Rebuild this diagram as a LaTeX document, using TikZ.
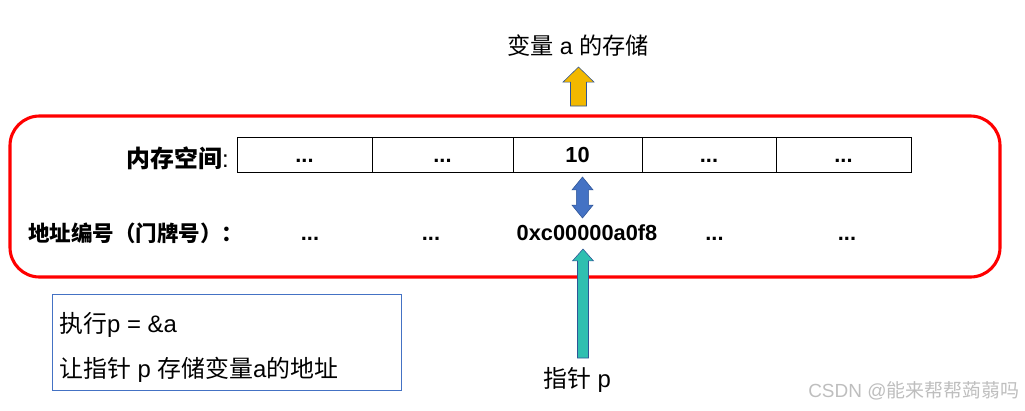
\documentclass[tikz,border=0pt]{standalone}
\usepackage{fontspec}
\setmainfont{Liberation Sans}
\newfontfamily\cjk{Noto Sans CJK SC}
\usetikzlibrary{calc}
\definecolor{framecol}{RGB}{255,0,0}
\definecolor{boxcol}{RGB}{68,114,196}
\definecolor{linkcol}{RGB}{68,114,196}
\definecolor{ptrcol}{RGB}{47,191,176}
\definecolor{edgecol}{RGB}{47,85,151}
\definecolor{storecol}{RGB}{242,184,0}
\definecolor{markcol}{RGB}{190,190,190}
\newcommand{\celldots}{...}
\tikzset{
  % shaft half-width / head half-width / head length, head at the target
  fat up/.style args={#1/#2/#3}{
    to path={let \p1=(\tikztostart), \p2=(\tikztotarget) in
      (\x1-#1,\y1) -- (\x1-#1,\y2-#3) -- (\x1-#2,\y2-#3) -- (\x1,\y2)
      -- (\x1+#2,\y2-#3) -- (\x1+#1,\y2-#3) -- (\x1+#1,\y1) -- cycle}
  },
  % same, with a head at both ends (start above target)
  fat both/.style args={#1/#2/#3}{
    to path={let \p1=(\tikztostart), \p2=(\tikztotarget) in
      (\x1-#1,\y1-#3) -- (\x1-#2,\y1-#3) -- (\x1,\y1) -- (\x1+#2,\y1-#3)
      -- (\x1+#1,\y1-#3) -- (\x1+#1,\y2+#3) -- (\x1+#2,\y2+#3) -- (\x1,\y2)
      -- (\x1-#2,\y2+#3) -- (\x1-#1,\y2+#3) -- cycle}
  }
}

\begin{document}
\begin{tikzpicture}[
    x=0.025cm, y=-0.025cm,
    cell/.style={draw, thin, inner sep=0pt, minimum height=0.875cm,
      text height=10.7pt, text depth=0pt, font=\bfseries\fontsize{15.5}{18}\selectfont},
    addr/.style={inner sep=0pt, text height=11pt, text depth=0pt,
      font=\bfseries\fontsize{15.5}{18}\selectfont},
    rowlabel/.style={inner sep=0pt, font=\fontsize{17}{20}\selectfont},
    plain/.style={inner sep=0pt, font=\fontsize{17}{20}\selectfont}
  ]
  \useasboundingbox (0,0) rectangle (1025,410);

  % --- outer frame -------------------------------------------------------
  \draw[framecol, line width=2.2pt, rounded corners=21pt] (10,116) rectangle (1000,277);

  % --- memory cells and their addresses ----------------------------------
  \foreach \l/\r/\v [count=\i] in {237/372/\celldots, 372/513/\celldots, 513/642/10, 642/776/\celldots, 776/911/\celldots}
    \node[cell, minimum width={(\r-\l)*0.025cm}] (c\i) at ({(\l+\r)/2},154.5) {\v};
  \foreach \x/\v [count=\i] in {310/\celldots, 431/\celldots, 587/0xc00000a0f8, 714.5/\celldots, 847/\celldots}
    \node[addr] (a\i) at (\x,233) {\v};

  % --- row labels --------------------------------------------------------
  \node[rowlabel, anchor=east] (memlbl) at (229,158) {{\cjk\bfseries 内存空间}:};
  \node[rowlabel, anchor=west, font=\fontsize{15.3}{19}\selectfont] (addrlbl) at (28,233) {\cjk\bfseries 地址编号（门牌号）：};

  % --- value cell <-> its address ----------------------------------------
  \draw[fill=linkcol, draw=edgecol, thin, fat both=4.3pt/7.5pt/9.2pt]
    ($(c3.center)+(5,22.5)$) to ($(a3.center)+(-5,-15)$);

  % --- storage of a, above the frame -------------------------------------
  \node[plain, font=\fontsize{16.5}{20}\selectfont] (store) at (578,46) {{\cjk 变量} a {\cjk 的存储}};
  \draw[fill=storecol, draw=edgecol, thin, fat up=5.7pt/11pt/10.7pt]
    ($(c3.center)+(1,-48.5)$) to ($(store.center)+(0,21)$);

  % --- pointer p, pointing at the address --------------------------------
  \node[plain] (ptr) at (577,380) {{\cjk 指针} p};
  \draw[fill=ptrcol, draw=edgecol, thin, fat up=3.9pt/7.5pt/8.5pt]
    ($(ptr.center)+(6,-22)$) to ($(a3.center)+(-4,16)$);

  % --- note box ----------------------------------------------------------
  \node[draw=boxcol, thin, minimum width=8.725cm, minimum height=2.4cm, anchor=north west] (note) at (52,294) {};
  \node[plain, anchor=west] (step1) at (59,325) {{\cjk 执行}p = \&a};
  \node[plain, anchor=west] (step2) at (59,370) {{\cjk 让指针} p {\cjk 存储变量}a{\cjk 的地址}};

  % --- watermark ---------------------------------------------------------
  \node[plain, anchor=west, text=markcol, font=\fontsize{13.5}{16}\selectfont] (csdn) at (808,391) {CSDN @{\cjk 能来帮帮蒟蒻吗}};

\end{tikzpicture}
\end{document}
